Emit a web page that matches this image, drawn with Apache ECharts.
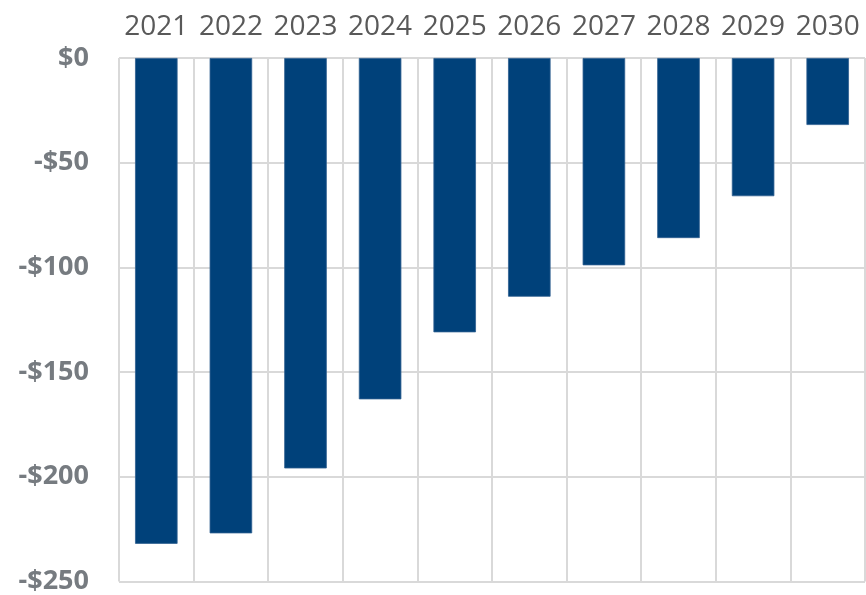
<!DOCTYPE html>
<html>
<head>
<meta charset="utf-8">
<script src="https://cdn.jsdelivr.net/npm/echarts@6/dist/echarts.min.js"></script>
<style>
  html, body { margin: 0; padding: 0; background: #fff; }
  #chart { width: 866px; height: 595px; }
</style>
</head>
<body>
<div id="chart"></div>
<script>
const years = ["2021", "2022", "2023", "2024", "2025", "2026", "2027", "2028", "2029", "2030"];
const values = [-232, -227, -196, -163, -131, -114, -99, -86, -66, -32];
const yTicks = [0, -50, -100, -150, -200, -250];

const chart = echarts.init(document.getElementById("chart"));
const gridColor = "#d9d9d9";

chart.setOption({
  animation: false,
  grid: { left: 119, right: 1, top: 58, bottom: 13 },
  xAxis: {
    type: "category",
    position: "top",
    data: years,
    axisLine: { show: false },
    axisTick: { show: false },
    axisLabel: {
      interval: 0,
      hideOverlap: false,
      margin: 17,
      fontFamily: "Open Sans",
      fontSize: 28,
      color: "#595959"
    },
    splitLine: { show: true, interval: 0, lineStyle: { color: gridColor, width: 2 } }
  },
  yAxis: {
    type: "value",
    min: yTicks[yTicks.length - 1],
    max: yTicks[0],
    interval: 50,
    axisLine: { show: false },
    axisTick: { show: false },
    axisLabel: {
      margin: 30,
      fontFamily: "Open Sans",
      fontWeight: "bold",
      fontSize: 27,
      color: "#767b80",
      formatter: v => (v < 0 ? "-" : "") + "$" + Math.abs(v)
    },
    splitLine: { lineStyle: { color: gridColor, width: 2 } }
  },
  series: [
    {
      type: "bar",
      data: values,
      barWidth: "57%",
      itemStyle: { color: "#00417a", borderColor: "#2f5f90", borderWidth: 0.8 }
    }
  ]
});
</script>
</body>
</html>
